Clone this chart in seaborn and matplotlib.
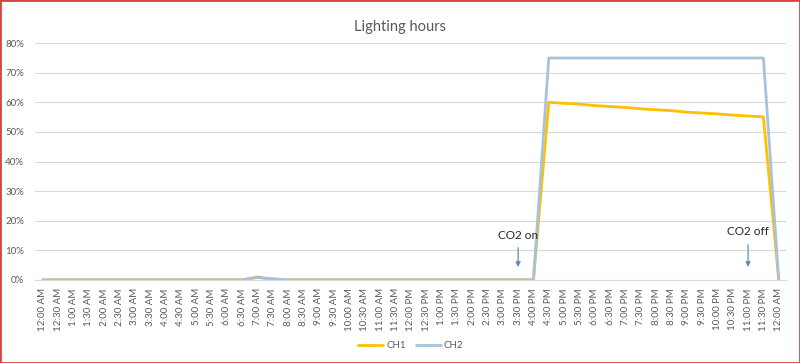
import matplotlib
matplotlib.use('Agg')
import matplotlib.pyplot as plt
from matplotlib.patches import Rectangle
from matplotlib.ticker import FuncFormatter
import numpy as np
import pandas as pd
import seaborn as sns

# half-hour slots over one day (12:00 AM to the next 12:00 AM)
time_labels = [
    '12:00 AM', '12:30 AM', '1:00 AM', '1:30 AM', '2:00 AM', '2:30 AM',
    '3:00 AM', '3:30 AM', '4:00 AM', '4:30 AM', '5:00 AM', '5:30 AM',
    '6:00 AM', '6:30 AM', '7:00 AM', '7:30 AM', '8:00 AM', '8:30 AM',
    '9:00 AM', '9:30 AM', '10:00 AM', '10:30 AM', '11:00 AM', '11:30 AM',
    '12:00 PM', '12:30 PM', '1:00 PM', '1:30 PM', '2:00 PM', '2:30 PM',
    '3:00 PM', '3:30 PM', '4:00 PM', '4:30 PM', '5:00 PM', '5:30 PM',
    '6:00 PM', '6:30 PM', '7:00 PM', '7:30 PM', '8:00 PM', '8:30 PM',
    '9:00 PM', '9:30 PM', '10:00 PM', '10:30 PM', '11:00 PM', '11:30 PM',
    '12:00 AM',
]

# percent values per slot
ch1 = [0, 0, 0, 0, 0, 0, 0, 0, 0, 0, 0, 0, 0, 0, 1.0, 0,
       0, 0, 0, 0, 0, 0, 0, 0, 0, 0, 0, 0, 0, 0, 0, 0, 0,
       60.0, 59.7, 59.4, 58.9, 58.6, 58.3, 57.8, 57.5, 57.2, 56.7,
       56.4, 56.1, 55.7, 55.4, 55.1, 0]
ch2 = [0, 0, 0, 0, 0, 0, 0, 0, 0, 0, 0, 0, 0, 0, 0.8, 0.4,
       0, 0, 0, 0, 0, 0, 0, 0, 0, 0, 0, 0, 0, 0, 0, 0, 0,
       75, 75, 75, 75, 75, 75, 75, 75, 75, 75, 75, 75, 75, 75, 75, 0]

# annotations: (text, slot label, text level, arrow start, arrow end)
notes = [('CO2 on', '3:30 PM', 14.9, 11.8, 3.4),
         ('CO2 off', '11:00 PM', 16.2, 12.8, 3.4)]

sns.set_style('white')
plt.rcParams['font.family'] = ['Lato', 'DejaVu Sans']

slots = np.arange(len(time_labels))
df = pd.DataFrame({'slot': np.concatenate([slots, slots]),
                   'value': ch1 + ch2,
                   'series': ['CH1'] * len(ch1) + ['CH2'] * len(ch2)})

fig = plt.figure(figsize=(8, 3.63), dpi=100)
ax = fig.add_axes([0.044, 0.229, 0.939, 0.652])

sns.lineplot(data=df, x='slot', y='value', hue='series',
             palette={'CH1': '#FFC000', 'CH2': '#A5C3DC'},
             linewidth=2, sort=False, ax=ax)

ax.set_xlim(-0.5, len(time_labels) - 0.5)
ax.set_ylim(0, 80)
ax.set_yticks(range(0, 81, 10))
ax.yaxis.set_major_formatter(FuncFormatter(lambda v, p: f'{int(v)}%'))
ax.set_xticks(slots)
ax.set_xticklabels(time_labels, rotation=90)
ax.tick_params(axis='both', length=0, labelsize=7, colors='#595959')
ax.tick_params(axis='x', pad=6)
ax.tick_params(axis='y', pad=8)
ax.grid(axis='y', color='#d9d9d9', linewidth=0.8)
ax.set_axisbelow(True)
for side in ['top', 'right', 'left']:
    ax.spines[side].set_visible(False)
ax.spines['bottom'].set_color('#d9d9d9')
ax.set_xlabel('')
ax.set_ylabel('')

for text, slot, ty, y0, y1 in notes:
    xi = time_labels.index(slot, 20)
    ax.annotate('', xy=(xi, y1), xytext=(xi, y0),
                arrowprops=dict(arrowstyle='-|>', color='#5B8DB8', lw=0.9,
                                mutation_scale=7))
    ax.text(xi, ty, text, ha='center', va='center', fontsize=8.5, color='#262626')

fig.suptitle('Lighting hours', x=0.5, y=0.945, fontsize=10.5, color='#595959')

ax.legend(loc='center', bbox_to_anchor=(0.5, -0.278), ncol=2, frameon=False,
          fontsize=7, handlelength=2.6, columnspacing=1.0, handletextpad=0.3,
          labelcolor='#595959')

fig.patches.append(Rectangle((0, 0), 1, 1, transform=fig.transFigure, fill=False,
                             edgecolor='#d64541', linewidth=2, zorder=10))

fig.savefig('out.png', dpi=100)
